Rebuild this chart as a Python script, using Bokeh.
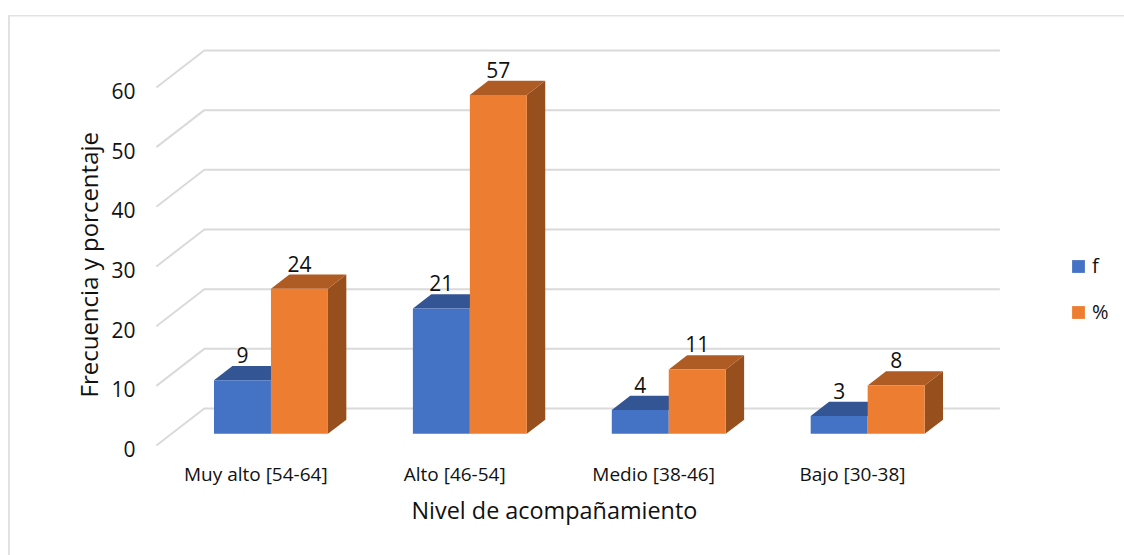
from bokeh.plotting import figure
from bokeh.embed import file_html
from bokeh.resources import INLINE
from bokeh.models import Range1d, FixedTicker, Title, Legend, LegendItem
from bokeh.core.properties import value

categories = ["Muy alto [54-64]", "Alto [46-54]", "Medio [38-46]", "Bajo [30-38]"]
f_values = [9, 21, 4, 3]
pct_values = [24.3, 56.8, 10.8, 8.1]
f_labels = ["9", "21", "4", "3"]
pct_labels = ["24", "57", "11", "8"]
y_ticks = [0, 10, 20, 30, 40, 50, 60]

FONT = "Open Sans"
BLUE, BLUE_TOP = "#4472C4", "#335593"
ORANGE, ORANGE_TOP, ORANGE_SIDE = "#ED7D31", "#AE5B24", "#97501D"
GRID = "#DADADA"
EDGE = "#E2E2E2"

# depth of the pseudo-3D floor in data units
DX, DY = 0.241, 6.2
T0, T1 = 0.316, 0.70      # bar front / back as a fraction of floor depth
HALF = 0.2864             # width of one bar
LABEL_DROP = 0.6          # tick labels sit slightly under the front of the floor

p = figure(width=1124, height=555, output_backend="svg", toolbar_location=None,
           x_range=Range1d(-0.5546, 4.3675), y_range=Range1d(-1, 72.06),
           min_border_left=145, min_border_right=0, min_border_top=15, min_border_bottom=104,
           background_fill_color=None, border_fill_color=None, outline_line_color=None)
p.grid.visible = False
# chart border: drawn behind the transparent canvas
p.styles = {
    "background-image": f"linear-gradient({EDGE},{EDGE}),linear-gradient({EDGE},{EDGE})",
    "background-size": "1116px 1.5px, 2px 540px",
    "background-position": "8px 15px, 8px 15px",
    "background-repeat": "no-repeat",
}

ax = p.xaxis[0]
ax.ticker = FixedTicker(ticks=list(range(len(categories))))
ax.major_label_overrides = {i: c for i, c in enumerate(categories)}
ax.axis_line_color = None
ax.major_tick_line_color = None
ax.minor_tick_line_color = None
ax.major_label_standoff = 3
ax.major_label_text_font = FONT
ax.major_label_text_font_size = "19px"
ax.major_label_text_color = "#111111"

ay = p.yaxis[0]
ay.ticker = FixedTicker(ticks=[v - LABEL_DROP for v in y_ticks])
ay.major_label_overrides = {v - LABEL_DROP: str(v) for v in y_ticks}
ay.axis_line_color = None
ay.major_tick_line_color = None
ay.minor_tick_line_color = None
ay.major_label_standoff = 4
ay.major_label_text_font = FONT
ay.major_label_text_font_size = "21px"
ay.major_label_text_color = "#111111"

# gridlines: floor diagonal + back wall
n = len(categories)
p.multi_line(xs=[[-0.5, -0.5 + DX, n - 0.5 + DX] for _ in y_ticks],
             ys=[[v, v + DY, v + DY] for v in y_ticks], line_color=GRID, line_width=2)

sx, sy = [DX * (T1 - T0), DY * (T1 - T0)]
fy = DY * T0
legend_renderers = {}
for i in range(n):
    c = i + DX * T0
    # blue bar
    fv = f_values[i] + fy
    p.patch([c - HALF, c - HALF + sx, c + sx, c], [fv, fv + sy, fv + sy, fv], fill_color=BLUE_TOP, line_color=None)
    rb = p.quad(left=[c - HALF], right=[c], bottom=[fy], top=[fv], fill_color=BLUE, line_color=None)
    # orange bar
    ov = pct_values[i] + fy
    p.patch([c + HALF, c + HALF + sx, c + HALF + sx, c + HALF], [fy, fy + sy, ov + sy, ov],
            fill_color=ORANGE_SIDE, line_color=None)
    p.patch([c, c + sx, c + HALF + sx, c + HALF], [ov, ov + sy, ov + sy, ov], fill_color=ORANGE_TOP, line_color=None)
    ro = p.quad(left=[c], right=[c + HALF], bottom=[fy], top=[ov], fill_color=ORANGE, line_color=None)
    legend_renderers = {"f": rb, "%": ro}
    # value labels
    p.text(x=[c - HALF / 2, c + HALF / 2], y=[fv + sy, ov + sy], text=[f_labels[i], pct_labels[i]],
           text_font=value(FONT), text_font_size="21px", text_color="#111111",
           text_align="center", text_baseline="bottom", y_offset=-3)

legend = Legend(items=[LegendItem(label=k, renderers=[r]) for k, r in legend_renderers.items()],
                location=(925, 126), glyph_width=16, glyph_height=16, spacing=19, padding=0, margin=0,
                label_standoff=6, label_text_font=FONT, label_text_font_size="20px",
                label_text_color="#111111", background_fill_alpha=0, border_line_color=None)
p.add_layout(legend)

p.add_layout(Title(text="Frecuencia y porcentaje", align="left", offset=54, standoff=8,
                   text_font=FONT, text_font_size="24px", text_font_style="normal", text_color="#111111"), "left")
p.add_layout(Title(text="Nivel de acompañamiento", align="left", offset=266, standoff=4,
                   text_font=FONT, text_font_size="23.4px", text_font_style="normal", text_color="#111111"), "below")

open("out.html", "w").write(file_html(p, INLINE))
